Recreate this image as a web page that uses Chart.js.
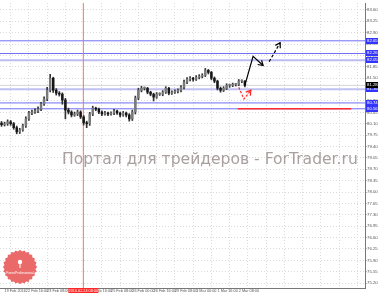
<!DOCTYPE html>
<html><head><meta charset="utf-8">
<style>html,body{margin:0;padding:0;background:#fff;overflow:hidden}canvas{display:block}</style>
<script src="https://cdn.jsdelivr.net/npm/chart.js@4.4.1/dist/chart.umd.min.js"></script>
</head><body><canvas id="c" width="378" height="293"></canvas>
<script>
// ---- data ----
const openP=[80.12,80.07,80.10,80.16,80.10,79.98,79.85,79.91,80.04,80.25,80.43,80.46,80.49,80.55,80.71,80.86,81.13,81.50,81.13,81.04,81.01,80.83,80.52,80.46,80.37,80.40,80.46,80.31,80.13,80.10,80.40,80.58,80.55,80.46,80.40,80.43,80.40,80.43,80.49,80.43,80.37,80.43,80.37,80.25,80.46,80.89,81.13,81.19,81.19,81.07,81.01,80.92,81.01,81.01,81.07,81.19,81.04,81.07,81.10,81.13,81.22,81.38,81.47,81.50,81.47,81.53,81.56,81.59,81.74,81.68,81.50,81.41,81.19,81.13,81.19,81.28,81.28,81.31,81.31,81.41,81.41];
const highP=[80.17,80.15,80.22,80.20,80.14,80.03,79.96,80.09,80.31,80.48,80.52,80.56,80.62,80.76,80.93,81.22,81.62,81.53,81.18,81.09,81.05,80.88,80.58,80.50,80.46,80.52,80.50,80.35,80.18,80.45,80.64,80.61,80.58,80.50,80.48,80.46,80.47,80.54,80.52,80.46,80.48,80.46,80.41,80.52,80.95,81.19,81.25,81.23,81.22,81.10,81.04,81.06,81.05,81.12,81.24,81.22,81.11,81.14,81.17,81.27,81.44,81.52,81.55,81.53,81.58,81.61,81.64,81.80,81.77,81.71,81.54,81.44,81.23,81.24,81.33,81.32,81.35,81.34,81.46,81.45,81.43];
const lowP=[80.02,80.03,80.05,80.05,79.93,79.79,79.80,79.87,79.99,80.20,80.38,80.42,80.44,80.50,80.66,80.81,81.08,81.06,80.98,80.95,80.70,80.25,80.40,80.31,80.33,80.35,80.26,80.06,79.98,80.05,80.35,80.50,80.41,80.35,80.36,80.35,80.36,80.38,80.39,80.31,80.33,80.31,80.18,80.20,80.40,80.84,81.08,81.14,81.02,80.96,80.80,80.88,80.97,80.96,81.03,80.99,81.00,81.03,81.05,81.08,81.17,81.33,81.42,81.41,81.43,81.48,81.51,81.55,81.63,81.45,81.36,81.14,81.07,81.09,81.15,81.22,81.24,81.26,81.27,81.36,81.23];
const closeP=[80.07,80.10,80.16,80.10,79.98,79.85,79.91,80.04,80.25,80.43,80.46,80.49,80.55,80.71,80.86,81.13,81.50,81.13,81.04,81.01,80.83,80.52,80.46,80.37,80.40,80.46,80.31,80.13,80.10,80.40,80.58,80.55,80.46,80.40,80.43,80.40,80.43,80.49,80.43,80.37,80.43,80.37,80.25,80.46,80.89,81.13,81.19,81.19,81.07,81.01,80.92,81.01,81.01,81.07,81.19,81.04,81.07,81.10,81.13,81.22,81.38,81.47,81.50,81.47,81.53,81.56,81.59,81.74,81.68,81.50,81.41,81.19,81.13,81.19,81.28,81.28,81.31,81.31,81.41,81.41,81.28];
const priceTicks=[75.20,75.55,75.90,76.25,76.60,76.95,77.30,77.65,78.00,78.35,78.70,79.05,79.40,79.75,80.10,80.45,80.80,81.15,81.50,81.85,82.20,82.55,82.90,83.25,83.60];
const timeLabels=["19 Feb 2016","22 Feb 16:00","23 Feb 08:00","24 Feb 00:00","24 Feb 16:00","25 Feb 08:00","26 Feb 00:00","26 Feb 16:00","29 Feb 08:00","1 Mar 00:00","1 Mar 16:00","2 Mar 08:00"];
const levels=[82.65,82.26,82.05,81.16,80.74,80.56];
const cursorTime="2016.02.24 08:00";
const cursorIndex=26.9;
const redLevel=80.56, redFrom=77.7, redTo=115;
const arrowSolidX=[80,82.7,86.0], arrowSolidY=[81.28,82.17,81.89];
const arrowDashX=[88,91.6], arrowDashY=[82.01,82.59];
const arrowRedX=[78.0,79.7,82.0], arrowRedY=[81.22,80.86,81.13];

// ---- styles ----
const Y_MIN=75.05, Y_MAX=83.81, X_MIN=-0.5, X_MAX=119.5;
const levelColors=['#7070f6','#7070f6','#bcbcf2','#c0c0f2','#7070f6','#7070f6'];
const levelWidths=[1,1,2,2,1,1];
const FONT='"Liberation Sans", Arial, sans-serif';

const pts=(xs,ys)=>xs.map((x,i)=>({x:x,y:ys[i]}));
const datasets=[];
levels.forEach((v,k)=>datasets.push({type:'line',data:[{x:X_MIN,y:v},{x:X_MAX,y:v}],borderColor:levelColors[k],borderWidth:levelWidths[k],pointRadius:0,order:20}));
datasets.push({type:'line',data:[{x:X_MIN,y:closeP[closeP.length-1]},{x:X_MAX,y:closeP[closeP.length-1]}],borderColor:'#d6d6d6',borderWidth:1,pointRadius:0,order:21});
datasets.push({type:'line',data:[{x:cursorIndex,y:Y_MIN},{x:cursorIndex,y:Y_MAX}],borderColor:'#ff7070',borderWidth:1,pointRadius:0,order:19});
datasets.push({type:'line',data:[{x:redFrom,y:redLevel},{x:redTo,y:redLevel}],borderColor:'#ff2a2a',borderWidth:1.5,pointRadius:0,order:18});
datasets.push({type:'bar',data:closeP.map((c,i)=>({x:i,y:[lowP[i],highP[i]]})),backgroundColor:'#333',barThickness:1,grouped:false,order:6});
datasets.push({type:'bar',data:closeP.map((c,i)=>({x:i,y:[openP[i],c]})),backgroundColor:closeP.map((c,i)=>c>=openP[i]?'#7a7a7a':'#151515'),barThickness:1.8,minBarLength:1,grouped:false,order:5});
datasets.push({type:'line',data:pts(arrowSolidX,arrowSolidY),borderColor:'#000',borderWidth:1.2,pointRadius:0,tension:0,order:1});
datasets.push({type:'line',data:pts(arrowDashX,arrowDashY),borderColor:'#000',borderWidth:1.2,borderDash:[3,2],pointRadius:0,order:1});
datasets.push({type:'line',data:pts(arrowRedX,arrowRedY),borderColor:'#ff2020',borderWidth:1.1,borderDash:[2.5,1.5],pointRadius:0,order:1});

function chevron(ctx,xs,ys,px,py,color){
  const n=px.length;
  const x1=xs.getPixelForValue(px[n-2]),y1=ys.getPixelForValue(py[n-2]);
  const x2=xs.getPixelForValue(px[n-1]),y2=ys.getPixelForValue(py[n-1]);
  const a=Math.atan2(y2-y1,x2-x1),L=5.5,s=0.55;
  ctx.save();ctx.strokeStyle=color;ctx.lineWidth=1.2;ctx.setLineDash([]);
  ctx.beginPath();
  ctx.moveTo(x2-L*Math.cos(a-s),y2-L*Math.sin(a-s));ctx.lineTo(x2,y2);
  ctx.lineTo(x2-L*Math.cos(a+s),y2-L*Math.sin(a+s));ctx.stroke();ctx.restore();
}
function axisBox(ctx,y,bg,text){
  ctx.fillStyle=bg;ctx.fillRect(366,Math.round(y)-3,12,6);
  ctx.fillStyle='#fff';ctx.font='4.3px '+FONT;ctx.textAlign='left';ctx.textBaseline='middle';
  ctx.fillText(text,367,Math.round(y)+0.3);
}
const extras={id:'extras',
  beforeDatasetsDraw(chart){
    const ctx=chart.ctx;ctx.save();
    const txt='Портал для трейдеров - ForTrader.ru';
    ctx.font='16px "DejaVu Sans"';
    const fs=16*296/ctx.measureText(txt).width;
    ctx.font=fs+'px "DejaVu Sans"';ctx.fillStyle='#a99f9f';ctx.textAlign='left';ctx.textBaseline='alphabetic';
    ctx.fillText(txt,62,164);
    // logo
    const cx=20,cy=267;ctx.beginPath();
    for(let i=0;i<48;i++){const r=i%2?15.6:17.2,a=i*Math.PI/24;const x=cx+r*Math.cos(a),y=cy+r*Math.sin(a);i?ctx.lineTo(x,y):ctx.moveTo(x,y);}
    ctx.closePath();ctx.fillStyle='#ea6a6a';ctx.fill();
    ctx.fillStyle='#fff';ctx.beginPath();ctx.arc(cx,cy-5,2.2,0,Math.PI*2);ctx.fill();
    ctx.fillRect(cx-0.5,cy-4,1,5);
    ctx.font='3.4px '+FONT;ctx.textAlign='center';ctx.textBaseline='middle';ctx.fillText('ForexProfessional',cx,cy+6);
    ctx.restore();
  },
  afterDraw(chart){
    const ctx=chart.ctx,xs=chart.scales.x,ys=chart.scales.y;ctx.save();
    chevron(ctx,xs,ys,arrowSolidX,arrowSolidY,'#000');
    chevron(ctx,xs,ys,arrowDashX,arrowDashY,'#000');
    chevron(ctx,xs,ys,arrowRedX,arrowRedY,'#ff2020');
    levels.forEach(v=>axisBox(ctx,ys.getPixelForValue(v),'#3434ff',v.toFixed(2)));
    const last=closeP[closeP.length-1];
    axisBox(ctx,ys.getPixelForValue(last),'#000',last.toFixed(2));
    const cxp=xs.getPixelForValue(cursorIndex);
    ctx.fillStyle='#ff2626';ctx.fillRect(cxp-15,288,30,5);
    ctx.fillStyle='#fff';ctx.font='3.8px '+FONT;ctx.textAlign='center';ctx.textBaseline='middle';
    ctx.fillText(cursorTime,cxp,290.7);
    ctx.restore();
  }
};

new Chart(document.getElementById('c'),{
  type:'bar',
  data:{datasets:datasets},
  options:{
    responsive:false,animation:false,events:[],
    layout:{padding:0},
    plugins:{legend:{display:false},tooltip:{enabled:false}},
    scales:{
      x:{type:'linear',min:X_MIN,max:X_MAX,offset:false,position:'bottom',
        afterBuildTicks:s=>{const t=[];for(let v=3;v<X_MAX;v+=6)t.push({value:v});s.ticks=t;},
        afterFit:s=>{s.height=0;},
        ticks:{display:false},
        grid:{color:'#dadada',lineWidth:1,drawTicks:false,offset:false},
        border:{display:false,dash:[1,2]}},
      x2:{type:'linear',min:X_MIN,max:X_MAX,offset:false,position:'bottom',
        afterBuildTicks:s=>{s.ticks=timeLabels.map((l,k)=>({value:1+7*k}));},
        afterFit:s=>{s.height=5;},
        ticks:{autoSkip:false,maxRotation:0,align:'start',padding:0.5,color:'#555',font:{family:FONT,size:3.8},
          callback:(v,i)=>timeLabels[i]||''},
        grid:{display:false,drawTicks:false},
        border:{display:true,color:'#777',width:1}},
      y:{type:'linear',position:'right',min:Y_MIN,max:Y_MAX,
        afterBuildTicks:s=>{s.ticks=priceTicks.map(v=>({value:v}));},
        afterFit:s=>{s.width=13;},
        ticks:{autoSkip:false,padding:0.5,color:'#555',font:{family:FONT,size:4.3},callback:v=>Number(v).toFixed(2)},
        grid:{color:'#dadada',lineWidth:1,tickLength:1.5,tickColor:'#777',drawTicks:true},
        border:{display:true,color:'#777',width:1,dash:[1,2]}}
    }
  },
  plugins:[extras]
});
</script></body></html>
